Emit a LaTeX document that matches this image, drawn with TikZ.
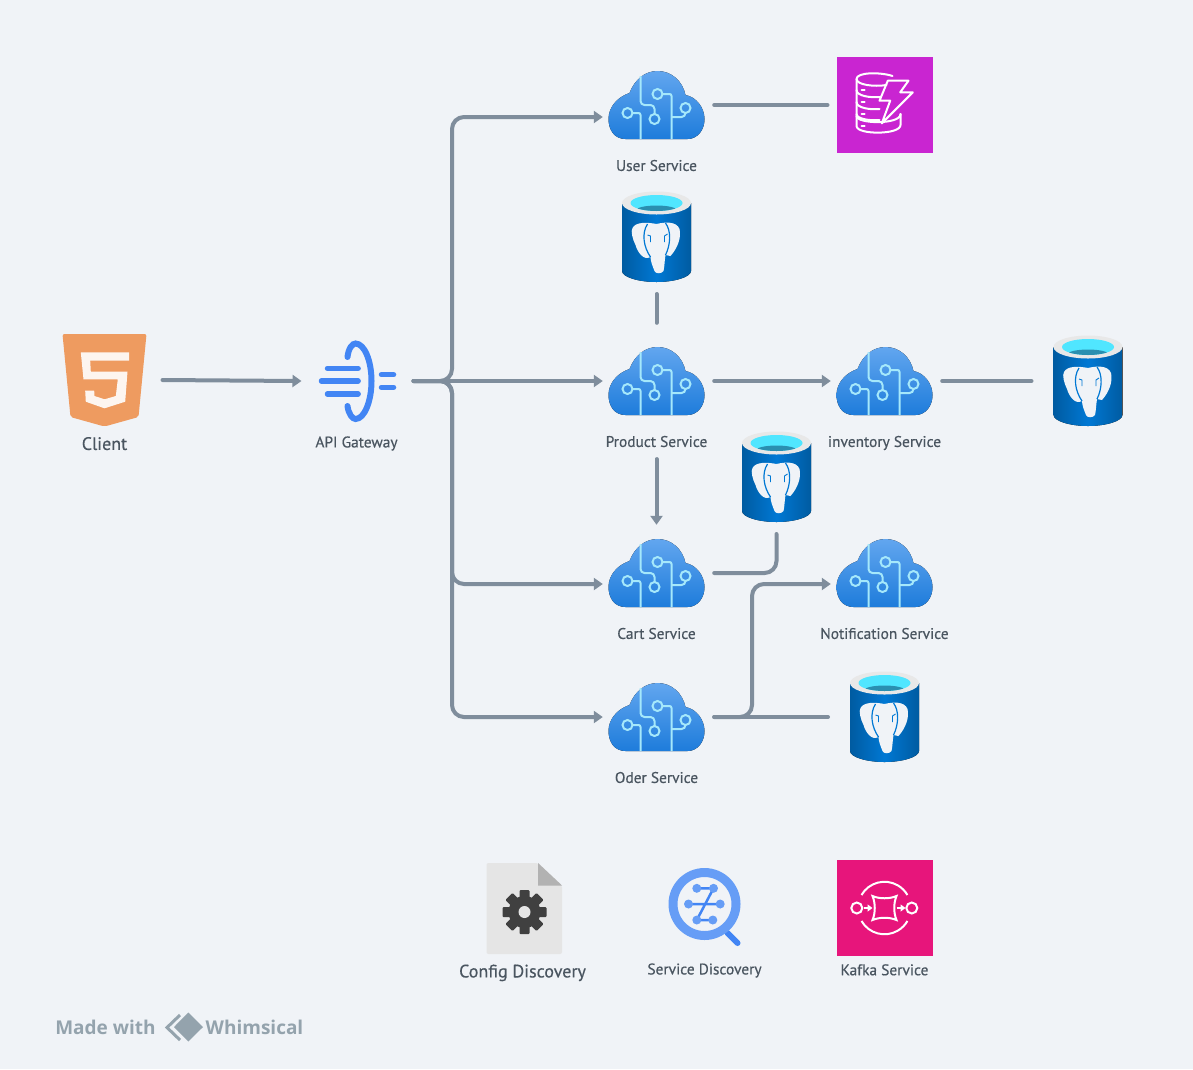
\documentclass[tikz,border=0pt]{standalone}
\usepackage{fontspec}
\setmainfont{PT Sans}[FakeBold=0.45]
\newfontfamily\markfont{Open Sans}
\usetikzlibrary{positioning,arrows.meta,calc}

\definecolor{pagebg}{HTML}{F0F3F7}
\definecolor{linkgray}{HTML}{7F8D9C}
\definecolor{textgray}{HTML}{4A5560}
\definecolor{markgray}{HTML}{94A3AD}
\definecolor{cloudtop}{HTML}{62A6EF}
\definecolor{cloudbot}{HTML}{1E7CDB}
\definecolor{trace}{HTML}{A5E8FB}
\definecolor{pgdark}{HTML}{005BA1}
\definecolor{pgmid}{HTML}{0078D4}
\definecolor{pgcyan}{HTML}{50E6FF}
\definecolor{pgwell}{HTML}{2A8FB0}
\definecolor{htmlorange}{HTML}{EE9B60}
\definecolor{gateblue}{HTML}{4285F4}
\definecolor{lensblue}{HTML}{669DF6}
\definecolor{dynamopurple}{HTML}{C925D1}
\definecolor{kafkapink}{HTML}{E7157B}

\tikzset{
    cloudnode/.style={minimum width=115pt, minimum height=70pt, inner sep=0pt},
    pgnode/.style={minimum width=69pt, minimum height=90pt, inner sep=0pt, outer xsep=22pt, outer ysep=12pt},
    awsnode/.style={minimum size=96pt, inner sep=0pt, outer sep=9pt},
    svclabel/.style={font=\fontsize{15.4}{18}\selectfont, text=textgray, inner sep=0pt, text height=11pt, text depth=3pt},
    biglabel/.style={svclabel, font=\fontsize{18}{21}\selectfont},
    link/.style={draw=linkgray, line width=4pt, line cap=round, rounded corners=12pt},
    flow/.style={link, shorten >=-4pt, -{Triangle[length=9pt,width=12pt]}},
    cloudicon/.pic={
        \fill[top color=cloudtop, bottom color=cloudbot] (-31,34) .. controls (-42,34) and (-48,25) .. (-48,14)
            .. controls (-48,2) and (-39,-8) .. (-27,-12) .. controls (-22,-25) and (-12,-34) .. (1,-34)
            .. controls (15,-34) and (26,-24) .. (29,-10) .. controls (40,-8) and (48,3) .. (48,14)
            .. controls (48,25) and (41,34) .. (31,34) -- cycle;
        \draw[trace, line width=2pt, rounded corners=4pt] (-16,-29) -- (-16,0) -- (-2,0) -- (-2,9);
        \draw[trace, line width=2pt] (-2,14) circle (5);
        \draw[trace, line width=2pt] (1,-11) circle (5);
        \draw[trace, line width=2pt, rounded corners=2pt] (6,-11) -- (15,-11) -- (15,34);
        \draw[trace, line width=2pt] (29,3) circle (5);
        \draw[trace, line width=2pt, rounded corners=4pt] (29,8) -- (29,12) -- (15,12);
        \draw[trace, line width=2pt] (-29,8) circle (5);
        \draw[trace, line width=2pt, rounded corners=2pt] (-24,8) -- (-16,8) -- (-16,34);
    },
    pgicon/.pic={
        \fill[left color=pgdark, right color=pgdark, middle color=pgmid] (-34.5,-34) -- (-34.5,34)
            .. controls (-34.5,40) and (-18,45) .. (0,45) .. controls (18,45) and (34.5,40) .. (34.5,34) -- (34.5,-34) -- cycle;
        \fill[black!9] (0,-34) ellipse (34.5 and 11.5);
        \fill[pgcyan] (0,-34) ellipse (26 and 8);
        \begin{scope}
            \clip (0,-34) ellipse (26 and 8);
            \fill[pgwell] (0,-27) ellipse (20 and 4.5);
        \end{scope}
        \fill[pagebg] (0,-13) .. controls (8,-15) and (20,-16) .. (23,-8) .. controls (25,1) and (21,11) .. (14,19)
            -- (9,18) .. controls (8,24) and (8,30) .. (7,34) .. controls (5,37) and (-1,37) .. (-2,34)
            .. controls (-4,29) and (-6,24) .. (-6,20) .. controls (-13,24) and (-19,15) .. (-21,8)
            .. controls (-24,2) and (-26,-6) .. (-24,-9) .. controls (-21,-15) and (-10,-15) .. (0,-13) -- cycle;
        \draw[pgmid, line width=1.2pt] (-9,-13) .. controls (-15,-4) and (-13,10) .. (-6,20);
        \draw[pgmid, line width=1.2pt] (9,-14) .. controls (15,-6) and (14,8) .. (9,18);
        \draw[pgmid, line width=.9pt] (-9,-2) -- (-6,-1) -- (-6,5);
        \draw[pgmid, line width=.9pt] (11,-3) -- (8,-1) -- (8,5);
    },
    htmlicon/.pic={
        \fill[htmlorange, rounded corners=2pt] (-42,-46) -- (42,-46) -- (34,37) -- (0,46.5) -- (-34,37) -- cycle;
        \fill[white!90!htmlorange] (-23.7,-27.7) -- (24.7,-27.7) -- (24.7,-19.3) -- (-14.3,-19.3) -- (-13.7,-8.3)
            -- (23,-8.3) -- (20.7,21.7) -- (0,28.3) -- (-18.7,21.7) -- (-19.3,10.7) -- (-10.3,10.7) -- (-10,16)
            -- (0,19.3) -- (11.3,16) -- (13.3,-.7) -- (-21,-.7) -- cycle;
    },
    gateicon/.pic={
        \draw[gateblue, line width=6pt, line cap=round] (-9,-24) .. controls (-8,-33) and (-4,-37.5) .. (-1,-37.5)
            .. controls (8,-37.5) and (15,-20) .. (15,0) .. controls (15,20) and (8,38) .. (-1,38)
            .. controls (-4,38) and (-8,33) .. (-9,25);
        \draw[gateblue, line width=5.5pt, line cap=round] (-29,-12.7) -- (1.6,-12.7) (-35,0) -- (1.6,0) (-29,13) -- (1.6,13)
            (25,-6.3) -- (37,-6.3) (25,6.3) -- (37,6.3);
    },
    dynamoicon/.pic={
        \fill[dynamopurple] (-48,-48) rectangle (48,48);
        \begin{scope}[white, line width=2pt, line cap=round, line join=round]
            \draw (8,-29) .. controls (-4,-33) and (-28,-33) .. (-28,-26) .. controls (-28,-20) and (-10,-18) .. (2,-20);
            \draw (-28,-26) -- (-28,-15) .. controls (-28,-9) and (-14,-7) .. (-4,-8);
            \draw (-28,-15) -- (-28,-3) .. controls (-28,3) and (-14,5) .. (-5,4);
            \draw (-28,-3) -- (-28,9) .. controls (-28,14) and (-14,16) .. (-5,15);
            \draw (-28,9) -- (-28,21) .. controls (-28,30) and (16,30) .. (16,20) -- (16,9);
            \draw (-28,11) .. controls (-28,19) and (16,20) .. (16,9);
            \draw (-23,-15) -- (-20,-15) (-23,-3) -- (-20,-3) (-23,9) -- (-20,9) (-23,21) -- (-20,21);
            \draw (3.3,-24.3) -- (24,-24.3) -- (15.7,-12.7) -- (28.3,-12.7) -- (-2.7,18.3) -- (5.7,-4.3) -- (-5,-4.3) -- cycle;
        \end{scope}
    },
    kafkaicon/.pic={
        \fill[kafkapink] (-48,-48) rectangle (48,48);
        \begin{scope}[white, line width=2pt]
            \draw (-27.7,0) circle (5.5);
            \draw (27.3,0) circle (5.5);
            \draw (-23,-13) arc (210:330:26.5);
            \draw (-23,13) arc (150:30:26.5);
            \draw (-12,-12) .. controls (-5,-9) and (5,-9) .. (12,-12) .. controls (9,-5) and (9,5) .. (12,12)
                .. controls (5,9) and (-5,9) .. (-12,12) .. controls (-9,5) and (-9,-5) .. (-12,-12) -- cycle;
            \draw[-{Triangle[length=5pt,width=7pt]}] (-21,0) -- (-12,0);
            \draw[-{Triangle[length=5pt,width=7pt]}] (12,0) -- (21,0);
        \end{scope}
    },
    configicon/.pic={
        \fill[black!10, rounded corners=2pt] (-38,-45.5) -- (13.5,-45.5) -- (37.5,-23) -- (37.5,45.5) -- (-38,45.5) -- cycle;
        \fill[black!30] (13.5,-45.5) -- (37.5,-23) -- (13.5,-23) -- cycle;
        \begin{scope}[shift={(0,3.5)}]
            \foreach \a in {0,45,...,315}
                \fill[black!75, rounded corners=1pt, rotate=\a] (-5,-22) rectangle (5,-10);
            \fill[black!75] (0,0) circle (16);
            \fill[black!10] (0,0) circle (6);
        \end{scope}
    },
    lensicon/.pic={
        \draw[gateblue, line width=6pt, line cap=round] (23,29) -- (33,39);
        \draw[lensblue, line width=9pt] (0,0) circle (31.5);
        \draw[gateblue, line width=2.5pt] (-7.7,-15.7) -- (9,-15.7) -- (-7.7,16) -- (8.3,16) (-16,0) -- (15.7,0);
        \foreach \dotx/\doty in {-7.7/-15.7,9/-15.7,-16/0,15.7/0,-7.7/16,8.3/16}
            \fill[lensblue] (\dotx,\doty) circle (4.5);
    },
}

\begin{document}
\begin{tikzpicture}[x=1pt,y=-1pt]
    \fill[pagebg] (0,0) rectangle (1193,1069);
    \useasboundingbox (0,0) rectangle (1193,1069);

    % Define nodes
    \node[minimum width=84pt, minimum height=93pt, inner sep=0pt, outer xsep=16pt] (client) at (104.5,380) {};
    \node[minimum width=80pt, minimum height=76pt, inner sep=0pt, outer xsep=17pt] (gateway) at (356.5,381) {};
    \node[cloudnode] (user) at (656.5,105) {};
    \node[cloudnode] (product) at (656.5,381) {};
    \node[cloudnode] (inventory) at (884.5,381) {};
    \node[cloudnode] (cart) at (656.5,573) {};
    \node[cloudnode] (notification) at (884.5,573) {};
    \node[cloudnode] (oder) at (656.5,717) {};
    \node[awsnode] (dynamo) at (884.5,105) {};
    \node[pgnode] (pgproduct) at (656.5,237) {};
    \node[pgnode] (pgcart) at (776.5,477) {};
    \node[pgnode] (pginventory) at (1088,381) {};
    \node[pgnode] (pgoder) at (884.5,717) {};
    \node[awsnode] (kafka) at (884.5,908) {};
    \node[inner sep=0pt, minimum width=76pt, minimum height=91pt] (config) at (524.5,908.5) {};
    \node[inner sep=0pt, minimum size=72pt] (lens) at (704.5,904) {};

    % Draw icons
    \pic at (client.center) {htmlicon};
    \pic at (gateway.center) {gateicon};
    \pic at (user.center) {cloudicon};
    \pic at (product.center) {cloudicon};
    \pic at (inventory.center) {cloudicon};
    \pic at (cart.center) {cloudicon};
    \pic at (notification.center) {cloudicon};
    \pic at (oder.center) {cloudicon};
    \pic at (dynamo.center) {dynamoicon};
    \pic at (pgproduct.center) {pgicon};
    \pic at (pgcart.center) {pgicon};
    \pic at (pginventory.center) {pgicon};
    \pic at (pgoder.center) {pgicon};
    \pic at (kafka.center) {kafkaicon};
    \pic at (config.center) {configicon};
    \pic at (lens.center) {lensicon};

    % Add labels
    \node[biglabel, below = 12pt of client] (clientlabel) {Client};
    \node[svclabel, below = 17pt of gateway] (gatewaylabel) {API Gateway};
    \node[svclabel, below = 19.5pt of user] (userlabel) {User Service};
    \node[svclabel, below = 19.5pt of product] (productlabel) {Product Service};
    \node[svclabel, below = 19.5pt of inventory] (inventorylabel) {inventory Service};
    \node[svclabel, below = 19.5pt of cart] (cartlabel) {Cart Service};
    \node[svclabel, below = 19.5pt of notification] (notificationlabel) {Notification Service};
    \node[svclabel, below = 19.5pt of oder] (oderlabel) {Oder Service};
    \node[biglabel, below = 12pt of config, xshift=-2pt] (configlabel) {Config Discovery};
    \node[svclabel, below = 23pt of lens] (lenslabel) {Service Discovery};
    \node[svclabel, below = -1pt of kafka] (kafkalabel) {Kafka Service};

    % Connect nodes
    \coordinate (bus) at (452,381);
    \coordinate (oderbus) at (752,717);
    \draw[flow, shorten >=-2pt] (client.east) -- (gateway.west);
    \draw[flow] (gateway.east) -- (product.west);
    \draw[flow] (gateway.east) -- (bus) |- ([yshift=-12pt]user.west);
    \draw[flow] (gateway.east) -- (bus) |- ([yshift=-11pt]cart.west);
    \draw[flow] (gateway.east) -- (bus) |- (oder.west);
    \draw[link] (user.east) -- (dynamo.west);
    \draw[link, shorten >=23pt] (pgproduct.south) -- (product.north);
    \draw[flow] (product.east) -- (inventory.west);
    \draw[link] (inventory.east) -- (pginventory.west);
    \draw[flow, shorten <=9pt, shorten >=13pt] (productlabel.south) -- (cart.north);
    \draw[link] (cart.east) -| (pgcart.south);
    \draw[link] (oder.east) -- (pgoder.west);
    \draw[flow] (oder.east) -- (oderbus) |- ([yshift=-11pt]notification.west);

    % Add mark
    \node[font=\markfont\bfseries\fontsize{19}{22}\selectfont, text=markgray, inner sep=0pt] (madewith) at (105.5,1027) {Made with};
    \node[font=\markfont\bfseries\fontsize{19}{22}\selectfont, text=markgray, inner sep=0pt] (whimsical) at (254.5,1027) {Whimsical};
    \fill[markgray] (188.3,1012.5) -- (203,1027) -- (188.3,1041.5) -- (174,1027) -- cycle;
    \draw[markgray, line width=3pt] (180,1015) -- (167,1027.5) -- (180,1040);
\end{tikzpicture}
\end{document}
